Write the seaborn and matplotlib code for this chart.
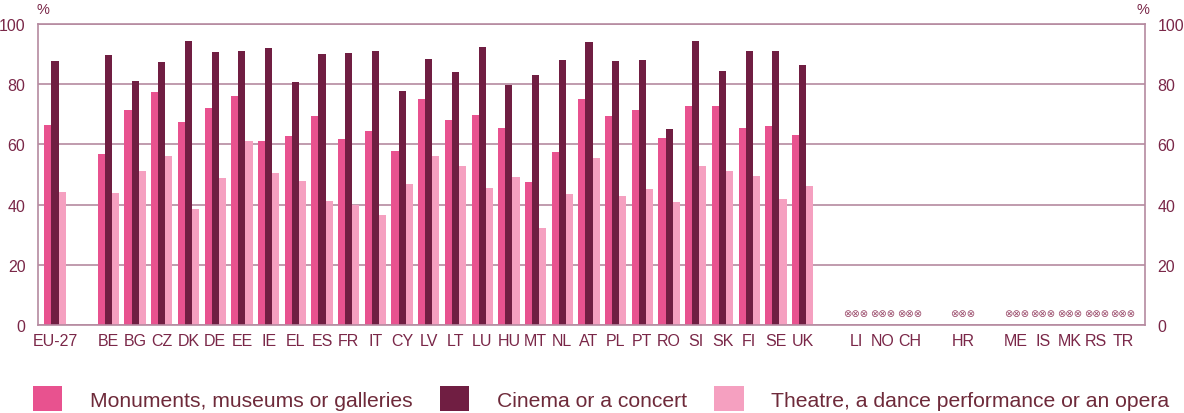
import pandas as pd
import seaborn as sns
import matplotlib.pyplot as plt

# share of people who visited at least once in the past 12 months (%)
countries = ['EU-27', 'BE', 'BG', 'CZ', 'DK', 'DE', 'EE', 'IE', 'EL', 'ES', 'FR', 'IT',
             'CY', 'LV', 'LT', 'LU', 'HU', 'MT', 'NL', 'AT', 'PL', 'PT', 'RO', 'SI',
             'SK', 'FI', 'SE', 'UK']
monuments = [66.5, 56.9, 71.5, 77.5, 67.3, 72.2, 76.1, 61.2, 62.7, 69.5, 61.8, 64.3,
             57.8, 75.1, 68.0, 69.7, 65.5, 47.6, 57.6, 75.1, 69.6, 71.5, 62.2, 72.6,
             72.8, 65.5, 66.2, 63.2]
cinema = [87.7, 89.8, 80.9, 87.3, 94.2, 90.8, 90.9, 92.1, 80.6, 89.9, 90.4, 91.0,
          77.6, 88.5, 84.1, 92.4, 79.9, 83.1, 87.9, 94.1, 87.8, 88.1, 65.1, 94.2,
          84.3, 90.9, 91.0, 86.3]
theatre = [44.3, 43.9, 51.2, 56.3, 38.5, 48.7, 61.2, 50.4, 47.8, 41.1, 39.8, 36.7,
           46.8, 56.0, 52.8, 45.5, 49.3, 32.3, 43.6, 55.4, 42.7, 45.3, 40.8, 52.8,
           51.3, 49.4, 42.0, 46.2]
not_available = ['LI', 'NO', 'CH', 'HR', 'ME', 'IS', 'MK', 'RS', 'TR']
series = ['Monuments, museums or galleries', 'Cinema or a concert',
          'Theatre, a dance performance or an opera']

# category order, blank names leave the gaps between country groups
order = (['EU-27', ''] + countries[1:] + [' ', 'LI', 'NO', 'CH', '  ', 'HR', '   ',
                                          'ME', 'IS', 'MK', 'RS', 'TR'])

df = pd.DataFrame({'country': countries * 3,
                   'value': monuments + cinema + theatre,
                   'type': [series[0]] * len(countries) + [series[1]] * len(countries)
                           + [series[2]] * len(countries)})

txt = '#7a2748'
grid = '#b58aa0'
palette = ['#e8528f', '#701e42', '#f5a0c0']

sns.set_style('white')
plt.rcParams['font.family'] = ['Liberation Sans', 'DejaVu Sans']

fig, ax = plt.subplots(figsize=(11.84, 4.14), dpi=100)
fig.subplots_adjust(left=0.032, right=0.967, top=0.9396, bottom=0.2126)

sns.barplot(data=df, x='country', y='value', hue='type', order=order, hue_order=series,
            palette=palette, saturation=1, width=0.8, linewidth=0, ax=ax)

ax.set_ylim(0, 100)
ax.set_xlim(-0.64, 40.82)
ax.set_yticks(range(0, 101, 20))
ax.yaxis.grid(True, color=grid, linewidth=1.2)
ax.set_axisbelow(True)
for s in ax.spines.values():
    s.set_color(grid)
    s.set_linewidth(1.2)
ax.set_xlabel('')
ax.set_ylabel('')
ax.tick_params(axis='both', length=0, colors=txt, labelsize=11.5)
ax.tick_params(axis='y', labelright=True, pad=9)
ax.tick_params(axis='x', pad=6)

for c in not_available:
    ax.text(order.index(c), 4, '\u2297\u2297\u2297', ha='center', va='center',
            fontsize=7.2, color='#9a4a6a', family='DejaVu Sans')

ax.text(0.005, 1.05, '%', transform=ax.transAxes, color=txt, fontsize=10.5,
        ha='center', va='center')
ax.text(0.998, 1.05, '%', transform=ax.transAxes, color=txt, fontsize=10.5,
        ha='center', va='center')

handles, labels = ax.get_legend_handles_labels()
ax.legend_.remove()
fig.legend(handles, labels, loc='lower left', bbox_to_anchor=(0.017, -0.025), ncol=3,
           frameon=False, prop={'family': 'Liberation Sans', 'size': 15.2},
           labelcolor='#6e2a3a', handlelength=1.4, handleheight=1.4,
           handletextpad=1.3, columnspacing=1.3, borderaxespad=0.2)

plt.savefig('out.png', dpi=100)
